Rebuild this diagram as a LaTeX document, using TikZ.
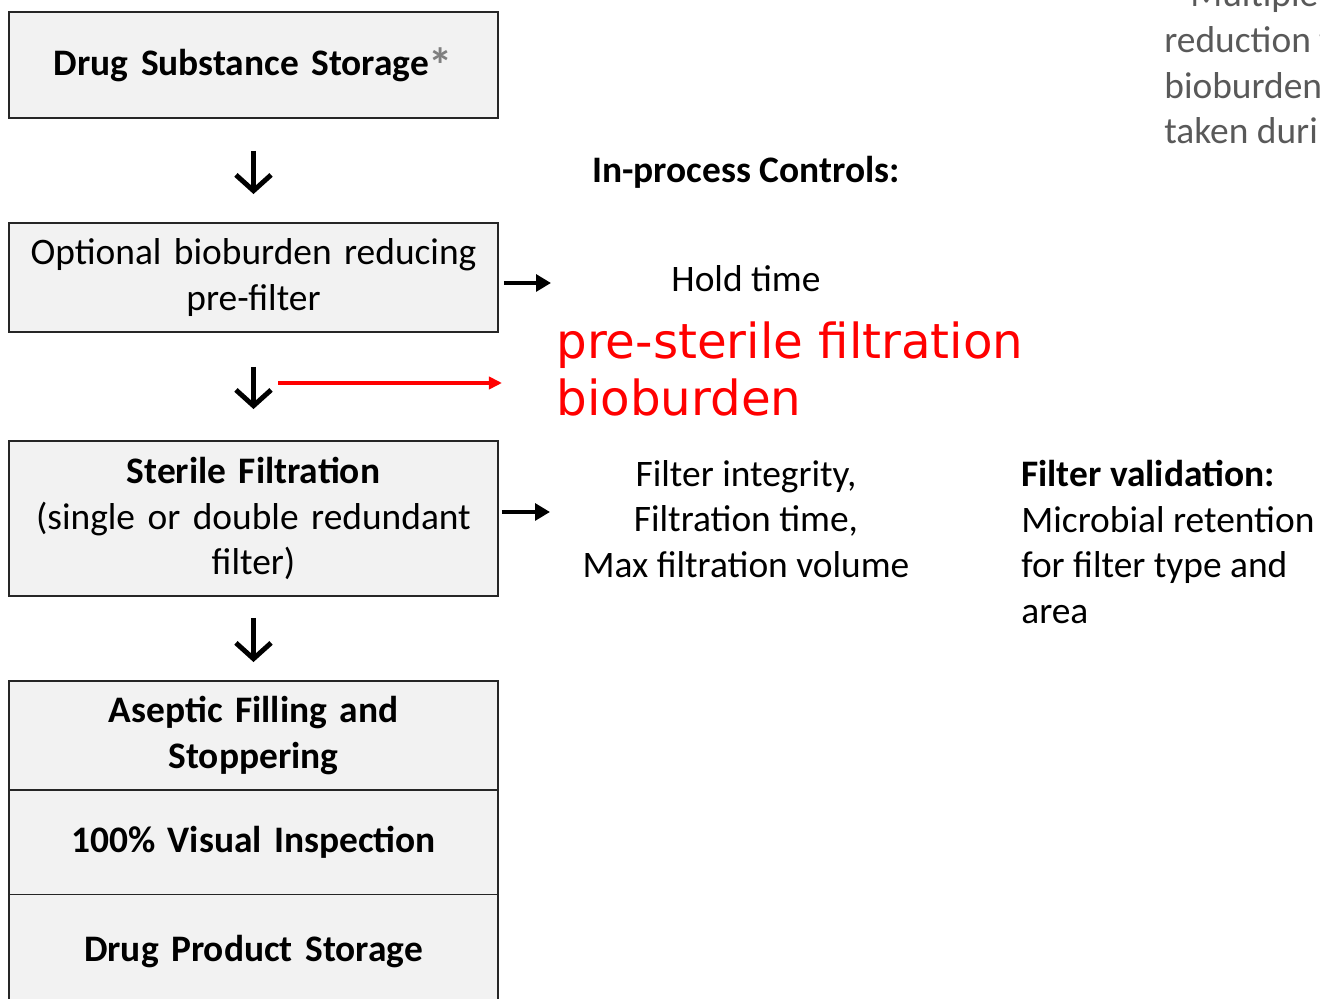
\documentclass[tikz,border=0pt]{standalone}
\usepackage{fontspec}
\setmainfont{Carlito}
\newfontfamily\redfont{DejaVu Sans}
\usetikzlibrary{arrows.meta,positioning}
\definecolor{stagefill}{HTML}{F2F2F2}
\definecolor{stageline}{HTML}{262626}
\definecolor{notegray}{HTML}{595959}
\definecolor{stargray}{HTML}{7F7F7F}

\begin{document}
\begin{tikzpicture}[x=0.02cm, y=-0.02cm,
  stage/.style={draw=stageline, line width=1.1pt, fill=stagefill, minimum width=9.78cm,
    text width=9.6cm, align=center, inner sep=0pt, font=\fontsize{21.3}{26}\selectfont},
  txt/.style={inner sep=0pt, font=\fontsize{21.3}{26}\selectfont},
  flow/.style={line width=2.8pt, -{Straight Barb[length=9pt, width=20pt]}},
  ctl/.style={line width=2.2pt, -{Triangle[length=8.5pt, width=9.5pt]}},
  redflow/.style={red, line width=2.2pt, -{Triangle[length=7.5pt, width=7pt]}}]
  \useasboundingbox (0,0) rectangle (1320,999);
  \clip (0,0) rectangle (1320,999);

  % process stages
  \node [stage, minimum height=2.12cm] (ds) at (253.5, 65) {\textbf{Drug Substance Storage}\textcolor{stargray}{\raisebox{-4pt}{\textbf{\scalebox{1.3}{*}}}}};
  \node [stage, minimum height=2.18cm] (pf) at (253.5, 277.5) {Optional bioburden reducing\\pre-filter};
  \node [stage, minimum height=3.10cm] (sf) at (253.5, 518.5) {\textbf{Sterile Filtration}\\(single or double redundant\\filter)};
  \node [stage, minimum height=2.18cm] (af) at (253.5, 735.5) {\textbf{Aseptic Filling and}\\\textbf{Stoppering}};
  \node [stage, minimum height=2.10cm] (vi) at (253.5, 842.5) {\textbf{100\% Visual Inspection}};
  \node [stage, minimum height=2.30cm] (dp) at (253.5, 952) {\textbf{Drug Product Storage}};

  \draw [flow, shorten <=0.64cm, shorten >=0.56cm] (ds) -- (pf);
  \draw [flow, shorten <=0.68cm, shorten >=0.62cm] (pf) -- (sf);
  \draw [flow, shorten <=0.42cm, shorten >=0.36cm] (sf) -- (af);

  % in-process controls
  \node [txt, font=\fontsize{21.3}{26}\selectfont\bfseries] (ipc) at (746, 172) {In-process Controls:};
  \node [txt] (hold) at (746, 279) {Hold time};
  \node [txt, align=center] (integ) at (746, 519) {Filter integrity,\\Filtration time,\\Max filtration volume};
  \node [txt, align=left, anchor=west] (valid) at (1021, 542) {\textbf{Filter validation:}\\Microbial retention\\for filter type and\\area};
  \node [txt, align=left, anchor=west, red, font=\redfont\fontsize{27.5}{33}\selectfont] (bb) at (556, 369) {pre-sterile filtration\\bioburden};
  \node [txt, align=left, anchor=west, notegray] (note) at (1164, 65.5) {\hspace*{0.52cm}Multiple\\reduction for\\bioburden\\taken during};

  \coordinate (holdtip) at (551, 283);
  \coordinate (integtip) at (550, 512);
  \coordinate (tap) at (278, 383);
  \coordinate (taptip) at (502, 383);
  \draw [ctl, shorten <=0.1cm] (pf.east |- holdtip) -- (holdtip);
  \draw [ctl, shorten <=0.06cm] (sf.east |- integtip) -- (integtip);
  \draw [redflow] (tap) -- (taptip);
\end{tikzpicture}
\end{document}
